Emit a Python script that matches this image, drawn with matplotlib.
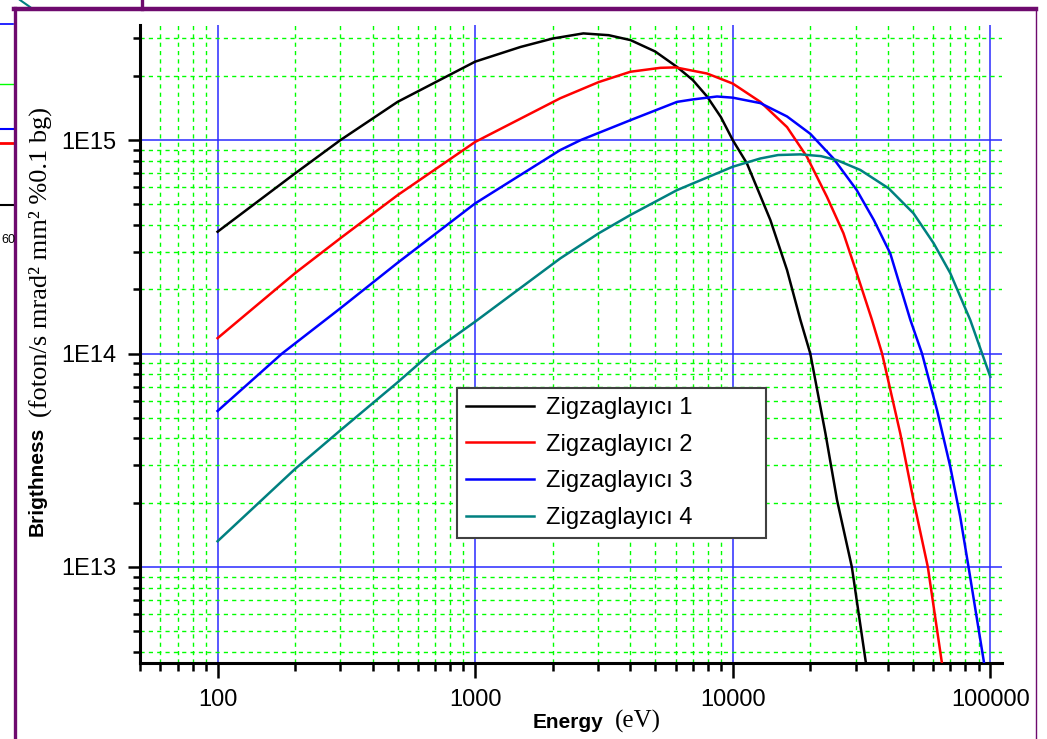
import matplotlib
matplotlib.use('Agg')
import matplotlib.pyplot as plt
from matplotlib.ticker import LogLocator, FixedLocator, FixedFormatter, NullFormatter
from matplotlib.lines import Line2D

# values (energy in eV, brightness)
e1 = [100, 200, 300, 500, 1000, 1500, 2000, 2630, 3300, 4010, 5000, 6080, 7000, 7950,
      9000, 10000, 11350, 14000, 16250, 18300, 20000, 22900, 25400, 29000, 32900, 33500]
b1 = [3.72e14, 6.98e14, 1.0e15, 1.51e15, 2.33e15, 2.73e15, 2.99e15, 3.16e15, 3.10e15,
      2.94e15, 2.60e15, 2.20e15, 1.91e15, 1.60e15, 1.28e15, 1.0e15, 7.78e14, 4.22e14,
      2.46e14, 1.44e14, 1.0e14, 4.23e13, 2.06e13, 1.0e13, 3.54e12, 3.0e12]

e2 = [100, 200, 300, 500, 1000, 2140, 3020, 4010, 5240, 6000, 7950, 10000, 12800,
      16250, 19400, 23200, 26900, 30300, 34700, 38000, 44700, 50300, 57200, 64900, 66000]
b2 = [1.18e14, 2.38e14, 3.47e14, 5.52e14, 9.8e14, 1.57e15, 1.87e15, 2.09e15, 2.18e15,
      2.19e15, 2.05e15, 1.84e15, 1.51e15, 1.15e15, 8.36e14, 5.43e14, 3.66e14, 2.38e14,
      1.44e14, 1.0e14, 4.23e13, 2.06e13, 1.0e13, 3.54e12, 3.0e12]

e3 = [100, 178, 300, 500, 1000, 2140, 2570, 4010, 6080, 7000, 8690, 10000, 12800, 16250,
      20000, 24600, 30300, 35300, 40900, 48900, 54300, 62100, 69900, 76400, 82300, 94600, 96000]
b3 = [5.38e13, 1.0e14, 1.63e14, 2.66e14, 5.05e14, 8.98e14, 1.0e15, 1.24e15, 1.51e15,
      1.55e15, 1.60e15, 1.58e15, 1.49e15, 1.29e15, 1.07e15, 8.2e14, 5.83e14, 4.22e14,
      2.94e14, 1.44e14, 1.0e14, 5.43e13, 2.95e13, 1.72e13, 1.0e13, 3.54e12, 3.0e12]

e4 = [100, 200, 300, 500, 671, 1000, 2140, 3020, 4010, 6080, 10000, 12800, 15000, 18300,
      22000, 25400, 31300, 40300, 50300, 60300, 69900, 83500, 100000]
b4 = [1.32e13, 2.88e13, 4.37e13, 7.33e13, 1.0e14, 1.41e14, 2.79e14, 3.66e14, 4.46e14,
      5.83e14, 7.5e14, 8.2e14, 8.51e14, 8.57e14, 8.41e14, 8.05e14, 7.24e14, 5.94e14,
      4.54e14, 3.28e14, 2.38e14, 1.44e14, 7.78e13]

labels = ['Zigzaglayıcı 1', 'Zigzaglayıcı 2', 'Zigzaglayıcı 3', 'Zigzaglayıcı 4']
colors = ['black', 'red', 'blue', '#008080']

xticks = [100, 1000, 10000, 100000]
xticklabels = ['100', '1000', '10000', '100000']
yticks = [1e13, 1e14, 1e15]
yticklabels = ['1E13', '1E14', '1E15']

SANS = 'Liberation Sans'
SERIF = 'Liberation Serif'
W, H = 1047, 739

fig = plt.figure(figsize=(W / 100, H / 100), dpi=100)
fig.patch.set_facecolor('white')
ax = fig.add_axes([140 / W, 1 - 663 / H, 862 / W, 638 / H])

for e, b, lab, c in zip([e1, e2, e3, e4], [b1, b2, b3, b4], labels, colors):
    ax.plot(e, b, color=c, lw=1.8, label=lab, zorder=3)

ax.set_xscale('log')
ax.set_yscale('log')
ax.set_xlim(50, 111000)
ax.set_ylim(3.55e12, 3.46e15)

ax.xaxis.set_major_locator(FixedLocator(xticks))
ax.xaxis.set_major_formatter(FixedFormatter(xticklabels))
ax.yaxis.set_major_locator(FixedLocator(yticks))
ax.yaxis.set_major_formatter(FixedFormatter(yticklabels))
ax.xaxis.set_minor_locator(LogLocator(base=10, subs=range(2, 10), numticks=50))
ax.yaxis.set_minor_locator(LogLocator(base=10, subs=range(2, 10), numticks=50))
ax.xaxis.set_minor_formatter(NullFormatter())
ax.yaxis.set_minor_formatter(NullFormatter())

ax.grid(which='major', color='#2a2aff', lw=1.1, ls='-', zorder=1)
ax.grid(which='minor', color='#00ff00', lw=1.0, ls=(0, (3, 3)), zorder=1)
ax.set_axisbelow(True)

for s in ['top', 'right']:
    ax.spines[s].set_visible(False)
for s in ['left', 'bottom']:
    ax.spines[s].set_linewidth(2.2)
    ax.spines[s].set_color('black')

ax.tick_params(which='major', direction='out', length=9, width=1.8, pad=8,
               labelsize=17, colors='black')
ax.tick_params(which='minor', direction='out', length=5, width=1.8)
ax.tick_params(axis='x', which='major', length=11)
ax.tick_params(axis='x', which='minor', length=6)
for t in ax.get_xticklabels() + ax.get_yticklabels():
    t.set_fontfamily(SANS)

leg = ax.legend(loc='lower left', bbox_to_anchor=(317 / 862, 125 / 638, 309 / 862, 151 / 638),
                mode='expand', borderaxespad=0, fancybox=False, framealpha=1,
                edgecolor='#404040', prop={'family': SANS, 'size': 17},
                handlelength=2.9, handletextpad=0.5, labelspacing=0.62, borderpad=0.38)
leg.get_frame().set_linewidth(1.5)
leg.set_zorder(5)


def fx(x):
    return x / W


def fy(y):
    return 1 - y / H


# axis labels: bold sans word + serif unit
fig.text(fx(568), fy(728), 'Energy', family=SANS, weight='bold', size=15,
         ha='center', va='baseline')
fig.text(fx(638), fy(728), '(eV)', family=SERIF, size=18, ha='center', va='baseline')
fig.text(fx(43), fy(481), 'Brigthness', family=SANS, weight='bold', size=15,
         rotation=90, rotation_mode='anchor', ha='center', va='baseline')
fig.text(fx(47), fy(262), '(foton/s mrad² mm² %0.1 bg)', family=SERIF, size=19,
         rotation=90, rotation_mode='anchor', ha='center', va='baseline')

# bits of the screenshot around the chart
purple = '#6e0a6e'
frag = [
    ([0, 13], [24, 24], 'blue', 1.2),
    ([0, 13], [129, 129], 'blue', 1.5),
    ([0, 13], [143, 143], 'red', 2),
    ([0, 13], [205, 205], 'black', 1.5),
    ([0, 13], [84, 84], '#00ff00', 1),
    ([20, 30], [0, 7], '#008080', 1.5),
]
for xs, ys, c, w in frag:
    fig.add_artist(Line2D([fx(v) for v in xs], [fy(v) for v in ys], color=c, lw=w))
fig.text(fx(1), fy(243), '60', family=SANS, size=9, ha='left', va='baseline')
fig.add_artist(Line2D([fx(14), fx(1036)], [fy(9), fy(9)], color=purple, lw=3.2))
fig.add_artist(Line2D([fx(14.5), fx(14.5)], [fy(8), fy(739)], color=purple, lw=2.4))
fig.add_artist(Line2D([fx(1035.5), fx(1035.5)], [fy(9), fy(739)], color=purple, lw=1))
fig.add_artist(Line2D([fx(141.5), fx(141.5)], [fy(0), fy(9)], color=purple, lw=2.4))

fig.savefig('out.png', dpi=100)
